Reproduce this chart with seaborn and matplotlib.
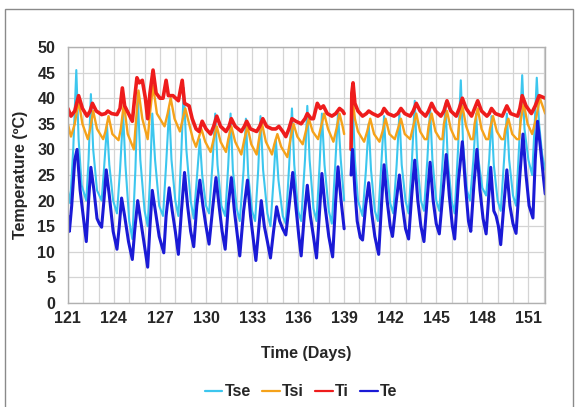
import matplotlib
matplotlib.use("Agg")
import matplotlib.pyplot as plt
from matplotlib.patches import Rectangle
from matplotlib.lines import Line2D
import numpy as np
import pandas as pd
import seaborn as sns

# Measured temperatures (day of year, degC); two logging periods split near day 139
TSE = [(121.00,22),(121.15,19.5),(121.35,30),(121.55,45.5),(121.70,32),(121.90,23),(122.20,20),(122.35,28),(122.50,40.8),(122.65,30),(122.90,22),(123.20,20),(123.35,26),(123.55,34.7),(123.70,27),(123.95,20),(124.20,17.5),(124.40,26),(124.60,37),(124.75,27),(125.00,16),(125.20,12.5),(125.40,26),(125.55,41),(125.72,28),(126.00,18),(126.20,15),(126.35,24),(126.50,37),(126.68,28),(126.95,19),(127.20,17),(127.40,27),(127.60,38),(127.75,28),(128.00,20),(128.20,17),(128.40,30),(128.55,42),(128.72,30),(129.00,20),(129.20,16.5),(129.42,25),(129.60,32),(129.75,25),(130.00,19),(130.20,17.5),(130.42,27),(130.60,37),(130.75,27),(131.00,19),(131.25,17),(131.45,27),(131.60,37),(131.75,26),(132.00,18.5),(132.20,16),(132.45,26),(132.60,36),(132.75,25),(133.00,18),(133.20,16),(133.40,26),(133.55,36.5),(133.72,26),(134.00,17.5),(134.20,15),(134.40,24),(134.55,32),(134.72,24),(135.00,17),(135.20,15.5),(135.42,27),(135.60,38),(135.75,27),(136.00,18),(136.20,16),(136.45,28),(136.60,38.5),(136.75,28),(137.00,18.5),(137.20,16),(137.40,27),(137.55,37),(137.72,27),(138.00,18),(138.20,15.5),(138.42,27),(138.60,37),(138.78,28),(139.00,20),
       (139.45,26),(139.55,40),(139.70,28),(139.90,20),(140.20,17),(140.42,26),(140.60,35),(140.75,26),(141.00,18),(141.20,16),(141.42,27),(141.60,36.5),(141.75,27),(142.00,19.5),(142.20,17.5),(142.42,27),(142.60,37),(142.75,27),(143.00,20),(143.20,17.5),(143.42,28),(143.60,39.5),(143.75,28),(144.00,20),(144.20,18),(144.42,28),(144.60,38),(144.75,28),(145.00,20),(145.20,18),(145.42,28),(145.60,39),(145.75,28),(146.00,20),(146.20,17.5),(146.42,30),(146.60,43.5),(146.75,31),(147.00,22),(147.20,20),(147.42,28),(147.60,37),(147.75,28),(148.00,22.5),(148.25,21),(148.45,28),(148.60,36.5),(148.75,27),(149.00,20),(149.20,18),(149.42,28),(149.60,37),(149.75,28),(150.00,21),(150.20,19),(150.42,32),(150.60,44.5),(150.75,34),(151.00,28),(151.25,25),(151.40,34),(151.55,44),(151.70,35),(151.90,29),(152.10,26)]

TSI = [(121.00,35),(121.20,32.5),(121.45,35),(121.70,39.5),(121.95,35),(122.30,32),(122.45,34),(122.65,37.5),(122.90,34),(123.30,32),(123.45,33.5),(123.65,36.5),(123.90,33),(124.30,31.8),(124.45,34),(124.65,39),(124.90,33),(125.30,30),(125.45,36),(125.60,41.5),(125.85,36),(126.20,32),(126.35,37),(126.55,42.5),(126.80,37),(127.00,36),(127.30,34.5),(127.50,37),(127.70,40),(127.95,36),(128.30,33.5),(128.45,35.5),(128.65,38),(128.90,35),(129.15,32),(129.35,30.5),(129.50,32),(129.70,34),(129.95,31.5),(130.30,29.5),(130.50,32),(130.70,34.5),(130.95,31.5),(131.30,29.5),(131.45,32),(131.65,34.5),(131.90,31.5),(132.30,29),(132.50,32),(132.70,34.5),(132.95,31),(133.30,29),(133.45,32),(133.65,35),(133.90,31.5),(134.30,29),(134.45,31),(134.65,33),(134.90,30.5),(135.30,28.5),(135.50,32),(135.70,35),(135.95,32.5),(136.30,31),(136.50,33.5),(136.70,36),(136.95,33.5),(137.30,32),(137.50,34.5),(137.70,37),(137.95,34),(138.30,31.5),(138.50,34),(138.70,37),(138.90,34.5),(139.00,33),
       (139.45,31),(139.55,40),(139.70,36),(139.90,33.5),(140.30,31.5),(140.50,33.5),(140.70,36),(140.95,33),(141.30,31.5),(141.50,33.5),(141.70,36),(141.95,33),(142.30,32),(142.50,34),(142.70,36),(142.95,33),(143.30,32),(143.50,34.5),(143.70,37),(143.95,33.5),(144.25,32),(144.40,32),(144.50,34.5),(144.70,37),(144.95,33.5),(145.25,32),(145.40,32),(145.50,35),(145.70,37.5),(145.95,34),(146.25,32),(146.40,32),(146.50,35.5),(146.70,38.5),(146.95,34.5),(147.25,32),(147.40,32),(147.50,35),(147.70,38),(147.95,34),(148.25,32),(148.40,32),(148.50,34),(148.70,36.5),(148.95,33.5),(149.25,32),(149.40,32),(149.50,34),(149.70,36),(149.95,33),(150.25,32),(150.40,32),(150.50,35.5),(150.70,39),(150.95,35),(151.25,33),(151.50,36),(151.75,40),(152.10,37)]

TI = [(121.00,38),(121.20,36.5),(121.45,37.5),(121.70,40.5),(121.95,38),(122.25,36.5),(122.45,37.5),(122.60,39),(122.85,37.5),(123.20,36.8),(123.45,37),(123.60,37.5),(123.85,37),(124.20,36.8),(124.40,38),(124.55,42),(124.70,38.5),(124.95,37),(125.20,35.5),(125.35,40),(125.50,44),(125.65,43),(125.85,43.5),(126.05,40),(126.20,36),(126.35,41),(126.55,45.5),(126.75,41),(127.00,40),(127.20,40),(127.40,43.5),(127.55,40.5),(127.85,40.5),(128.20,39.5),(128.45,43.5),(128.60,39),(128.90,38.5),(129.10,36),(129.35,34),(129.55,33.5),(129.75,35.5),(130.00,34),(130.30,33),(130.50,34.5),(130.70,36.5),(130.95,34.5),(131.30,33.5),(131.50,34.5),(131.65,36),(131.90,34.5),(132.30,33.5),(132.50,34.5),(132.65,35.5),(132.90,34),(133.30,33.5),(133.50,34.5),(133.70,36),(133.95,34.5),(134.30,34),(134.55,34),(134.75,34.5),(135.00,33.5),(135.20,32.5),(135.40,34),(135.60,36),(135.85,35.5),(136.20,35),(136.45,36),(136.60,37),(136.85,36),(137.00,36),(137.25,39),(137.45,38),(137.65,38.5),(137.90,37),(138.20,36.5),(138.45,37),(138.70,38),(138.90,37.5),(139.00,37),
      (139.45,30),(139.50,41),(139.58,43),(139.70,39),(139.90,37.5),(140.20,36.5),(140.45,37),(140.60,37.5),(140.85,37),(141.20,36.5),(141.45,37),(141.60,38),(141.85,37),(142.25,36.5),(142.50,37),(142.70,38),(142.95,37),(143.30,36.5),(143.50,37.5),(143.70,39),(143.95,37.5),(144.30,36.5),(144.50,37.5),(144.70,39),(144.95,37.5),(145.30,36.5),(145.50,37.5),(145.70,39.5),(145.95,37.5),(146.30,36.5),(146.50,38),(146.70,40),(146.95,38),(147.30,36.5),(147.50,38),(147.70,39.5),(147.95,37.5),(148.30,36.5),(148.45,37),(148.60,38),(148.85,37),(149.30,36.5),(149.45,37.5),(149.60,38.5),(149.85,37),(150.30,36.5),(150.45,38),(150.60,40.5),(150.85,38.5),(151.20,37),(151.45,38.5),(151.70,40.5),(152.10,40)]

TE = [(121.00,17),(121.10,14),(121.25,19),(121.45,28),(121.60,30),(121.80,22),(122.00,17),(122.20,12),(122.35,20),(122.50,26.5),(122.70,22),(122.90,16.5),(123.05,15.5),(123.20,14.8),(123.35,20),(123.50,26),(123.70,21),(123.95,14),(124.20,10.5),(124.35,15),(124.50,20.5),(124.70,17),(124.95,12),(125.20,8.5),(125.35,14),(125.55,20),(125.75,16),(126.00,11),(126.20,7),(126.35,15),(126.50,22),(126.70,18),(126.95,13),(127.25,9.8),(127.40,17),(127.60,22.5),(127.80,18),(128.00,14),(128.20,9.5),(128.40,18),(128.60,25.5),(128.80,19),(129.00,14),(129.20,11),(129.40,19),(129.60,24),(129.80,19),(130.00,15),(130.20,11.5),(130.45,19),(130.65,24.5),(130.85,19),(131.05,14),(131.25,10.5),(131.45,19),(131.65,24.5),(131.85,18),(132.05,13),(132.20,9.2),(132.45,18),(132.70,24),(132.90,17),(133.10,12),(133.25,8.3),(133.45,15),(133.60,20),(133.80,15),(134.00,12),(134.20,8.8),(134.40,14),(134.60,18.8),(134.80,16),(135.00,14.5),(135.20,13.3),(135.45,20),(135.65,25.5),(135.85,19),(136.05,13),(136.20,9.2),(136.40,17),(136.60,23),(136.80,17),(137.00,13),(137.20,8.8),(137.40,18),(137.55,25.3),(137.75,19),(138.00,13),(138.25,9),(138.45,20),(138.60,26.6),(138.80,20),(139.00,14.5),
      (139.45,25),(139.55,30),(139.70,22),(139.85,16),(140.05,12.8),(140.20,12.3),(140.40,19),(140.60,23.5),(140.80,17.5),(141.00,13),(141.25,9.5),(141.45,20),(141.60,27),(141.80,20),(142.00,15),(142.15,13),(142.40,20),(142.60,25),(142.80,19),(143.00,14.5),(143.20,12.5),(143.40,21),(143.60,27.9),(143.80,20),(144.00,15),(144.20,12),(144.40,20),(144.60,27.5),(144.80,20),(145.00,15.5),(145.20,13.5),(145.45,22),(145.65,29),(145.85,21),(146.05,15),(146.20,12.5),(146.45,24),(146.70,31.5),(146.90,23),(147.10,16),(147.25,14),(147.45,23),(147.65,30),(147.85,22),(148.05,16.5),(148.25,13.5),(148.40,20),(148.55,26.5),(148.75,18),(148.90,17),(149.05,15),(149.20,11.4),(149.40,19),(149.60,26),(149.80,19),(150.00,15.5),(150.20,13.6),(150.45,25),(150.65,33),(150.85,25),(151.05,19),(151.30,16.6),(151.45,28),(151.60,35.5),(151.80,30),(152.00,24),(152.10,21.3)]

SERIES = ["Tse", "Tsi", "Ti", "Te"]
X_TICKS = [121, 124, 127, 130, 133, 136, 139, 142, 145, 148, 151]
Y_TICKS = [0, 5, 10, 15, 20, 25, 30, 35, 40, 45, 50]
LOGGER_RESTART = 139.2  # data gap between the two logging periods

COLORS = {"Tse": "#3cc6ee", "Tsi": "#f5a21a", "Ti": "#ee1c1c", "Te": "#1a1ad6"}
WIDTHS = {"Tse": 1.5, "Tsi": 1.7, "Ti": 2.6, "Te": 2.2}

frames = []
for name, pts in zip(SERIES, [TSE, TSI, TI, TE]):
    d = pd.DataFrame(pts, columns=["day", "temp"])
    d["series"] = name
    d["period"] = (d["day"] > LOGGER_RESTART).astype(int)
    frames.append(d)
df = pd.concat(frames, ignore_index=True)

sns.set_theme(style="white")
plt.rcParams["font.family"] = ["Liberation Sans", "DejaVu Sans"]
plt.rcParams["font.weight"] = "bold"
plt.rcParams["lines.solid_joinstyle"] = "round"

fig = plt.figure(figsize=(5.85, 4.07), dpi=100)
ax = fig.add_axes([0.116, 0.2555, 0.816, 0.629])

sns.lineplot(data=df, x="day", y="temp", hue="series", hue_order=SERIES,
             palette=COLORS, size="series", sizes=WIDTHS, size_order=SERIES,
             units="period", estimator=None, sort=False, ax=ax, legend=False)

ax.set_xlim(121, 152.1)
ax.set_ylim(0, 50)
ax.set_xticks(X_TICKS)
ax.set_xticks(np.arange(121, 153, 1), minor=True)
ax.set_yticks(Y_TICKS)
ax.grid(True, which="both", axis="x", color="#d4d4d4", lw=0.9)
ax.grid(True, which="major", axis="y", color="#d4d4d4", lw=0.9)
ax.set_axisbelow(True)
for s in ax.spines.values():
    s.set_color("#b0b0b0")
    s.set_linewidth(1.0)
ax.tick_params(axis="x", which="both", length=0, labelsize=11.5, pad=6)
ax.tick_params(axis="y", which="both", length=0, labelsize=11.5, pad=9)
for lab in ax.get_xticklabels() + ax.get_yticklabels():
    lab.set_fontweight("bold")

ax.set_xlabel("Time (Days)", fontsize=11.5, fontweight="bold", labelpad=14)
ax.set_ylabel("Temperature (ºC)", fontsize=11.5, fontweight="bold", labelpad=7)

handles = [Line2D([], [], color=COLORS[n], lw=1.6) for n in SERIES]
fig.legend(handles, SERIES, loc="center", bbox_to_anchor=(0.515, 0.037), ncol=4,
           frameon=False, handlelength=1.1, handletextpad=0.15, columnspacing=0.7,
           prop={"size": 11.5, "weight": "bold"})

fig.add_artist(Rectangle((0.009, -0.02), 0.97, 0.999, transform=fig.transFigure,
                         fill=False, edgecolor="#8a8a8a", lw=1.0))

fig.savefig("out.png", dpi=100)
